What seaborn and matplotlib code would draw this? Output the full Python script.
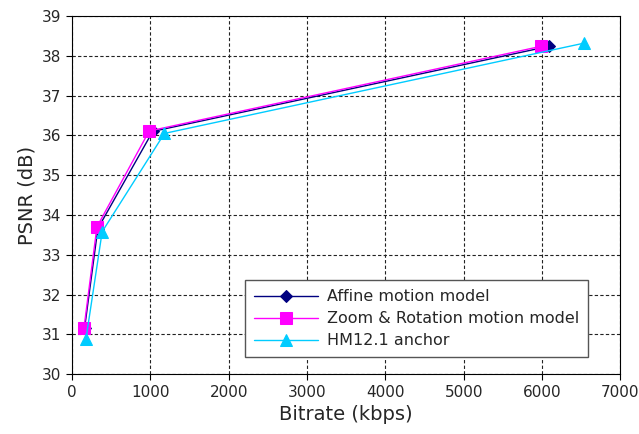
import pandas as pd
import seaborn as sns
import matplotlib.pyplot as plt

affine_rate = [160, 330, 1030, 6090]
affine_psnr = [31.15, 33.66, 36.10, 38.24]
zoom_rate = [153, 318, 985, 5990]
zoom_psnr = [31.16, 33.70, 36.11, 38.24]
hm_rate = [178, 385, 1180, 6540]
hm_psnr = [30.88, 33.58, 36.05, 38.32]

series = ["Affine motion model", "Zoom & Rotation motion model", "HM12.1 anchor"]
colors = ["#000080", "#ff00ff", "#00ccff"]
markers = ["D", "s", "^"]
sizes = [6, 8, 8]

df = pd.concat([
    pd.DataFrame({"rate": affine_rate, "psnr": affine_psnr, "model": series[0]}),
    pd.DataFrame({"rate": zoom_rate, "psnr": zoom_psnr, "model": series[1]}),
    pd.DataFrame({"rate": hm_rate, "psnr": hm_psnr, "model": series[2]}),
])

sns.set_style("white")
fig = plt.figure(figsize=(6.39, 4.34), dpi=100)
ax = fig.add_axes([0.1127, 0.138, 0.858, 0.825])

for name, c, m, s in zip(series, colors, markers, sizes):
    sns.lineplot(data=df[df["model"] == name], x="rate", y="psnr", color=c,
                 marker=m, markersize=s, markeredgecolor=c, linewidth=1,
                 label=name, ax=ax, sort=False, zorder=3)

ax.set_xlim(0, 7000)
ax.set_ylim(30, 39)
ax.set_xticks(range(0, 7001, 1000))
ax.set_yticks(range(30, 40))
ax.grid(True, color="#222222", linestyle=(0, (3, 2)), linewidth=0.8)
for sp in ax.spines.values():
    sp.set_color("black")
ax.tick_params(axis="both", labelsize=11, direction="out", length=4, color="black", left=True, bottom=True)
ax.set_xlabel("Bitrate (kbps)", fontsize=14)
ax.set_ylabel("PSNR (dB)", fontsize=14)

leg = ax.legend(loc="lower right", bbox_to_anchor=(0.942, 0.047), borderaxespad=0,
                fontsize=11.5, fancybox=False, framealpha=1, edgecolor="#555555",
                handlelength=4, handletextpad=0.6, borderpad=0.55, labelspacing=0.45)

fig.savefig("out.png", dpi=100)
